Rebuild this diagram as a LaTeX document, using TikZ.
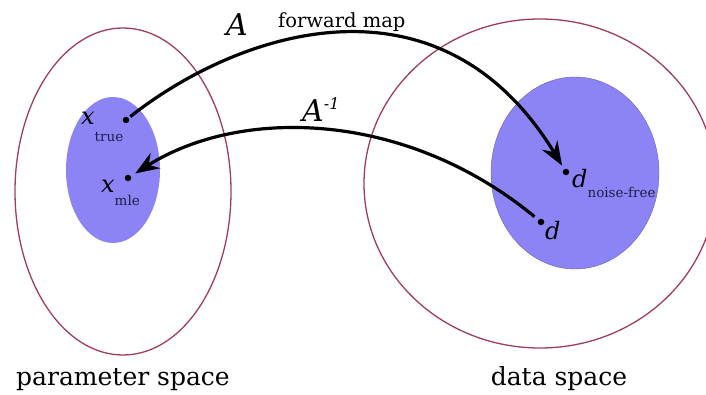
\documentclass[tikz,border=0pt]{standalone}
\usepackage{fontspec}
\setmainfont{DejaVu Serif}
\usetikzlibrary{arrows.meta}

\definecolor{spaceline}{RGB}{160,60,100}
\definecolor{blob}{RGB}{140,132,245}
\definecolor{blobline}{RGB}{105,95,185}
\definecolor{subtext}{RGB}{30,30,75}

% variable with a low subscript
\newcommand{\varlbl}[3]{{\fontsize{24}{24}\selectfont\itshape #1}\raisebox{#3}{\fontsize{13.5}{13.5}\selectfont\color{subtext}#2}}

\begin{document}
\begin{tikzpicture}[x=1pt,y=-1pt,
  dot/.style={circle,fill=black,inner sep=0pt,minimum size=6.5pt},
  map/.style={line width=3.2pt,-{Stealth[length=24pt,width=18pt,inset=8pt]}},
  lbl/.style={anchor=base west,inner sep=0pt}]
  \useasboundingbox (0,0) rectangle (706,395);
  \clip (0,0) rectangle (706,395);
  % the two spaces
  \draw[spaceline,line width=1.3pt] (123,191.5) ellipse (108 and 163.5);
  \draw[spaceline,line width=1.3pt] (540,183.5) ellipse (176 and 164.5);
  \fill[blob] (113,170) ellipse (47 and 73);
  \draw[blobline,fill=blob,line width=0.4pt] (575,173) ellipse (84 and 96);
  % points
  \node[dot] (xtrue) at (126,120) {};
  \node[dot] (xmle) at (128,178) {};
  \node[dot] (dnf) at (566,172) {};
  \node[dot] (dobs) at (541,222) {};
  \node[lbl] (ltrue) at (81,125) {\varlbl{x}{true}{-17pt}};
  \node[lbl] (lmle) at (101,193) {\varlbl{x}{mle}{-13pt}};
  \node[lbl] (lnf) at (572,188) {\varlbl{d}{noise-free}{-10pt}};
  \node[lbl] (lobs) at (545,240) {\varlbl{d}{}{0pt}};
  % maps
  \draw[map,shorten <=2pt,shorten >=4pt] (xtrue) .. controls (240,30) and (440,-35) .. (dnf);
  \draw[map,shorten <=5pt,shorten >=5pt] (dobs) .. controls (405,110) and (240,107) .. (xmle);
  \node[lbl] (amap) at (226,36) {\fontsize{30}{30}\selectfont\itshape A};
  \node[lbl] (fwd) at (278,28) {\fontsize{19.5}{19.5}\selectfont forward map};
  \node[lbl] (ainv) at (302,122) {\fontsize{30}{30}\selectfont\itshape A\raisebox{12pt}{\fontsize{16}{16}\selectfont -1}};
  % captions
  \node[anchor=base] (pspace) at (123,385) {\fontsize{25}{25}\selectfont parameter space};
  \node[anchor=base] (dspace) at (559,385) {\fontsize{25}{25}\selectfont data space};
\end{tikzpicture}
\end{document}
